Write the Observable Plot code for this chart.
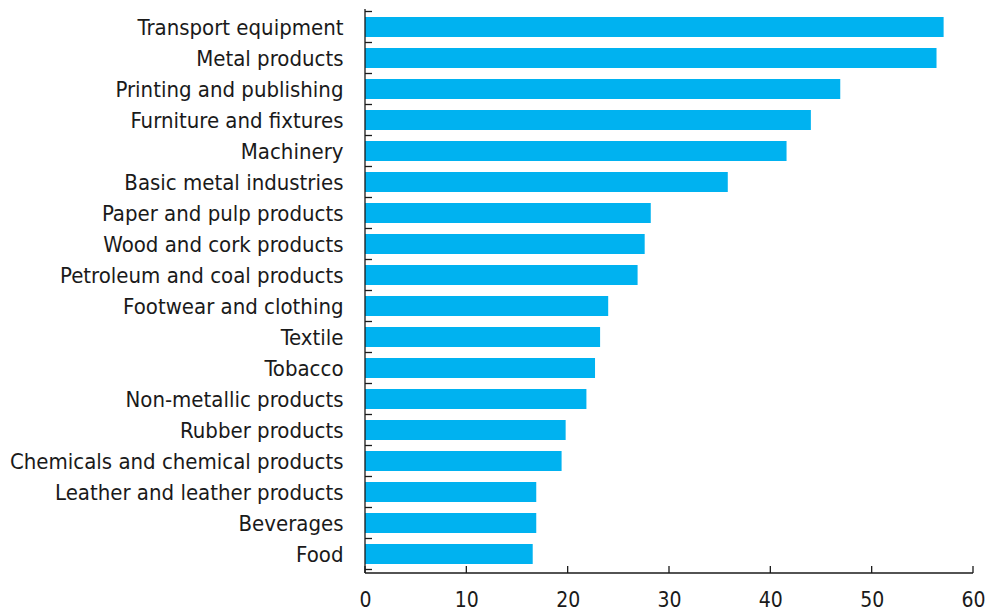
<!DOCTYPE html>
<html>
<head>
<meta charset="utf-8">
<script src="https://cdn.jsdelivr.net/npm/d3@7"></script>
<script src="https://cdn.jsdelivr.net/npm/@observablehq/plot@0.6"></script>
<style>
  html, body { margin: 0; padding: 0; background: #fff; overflow: hidden; }
</style>
</head>
<body>
<div id="chart"></div>
<script>
const categories = [
  "Transport equipment",
  "Metal products",
  "Printing and publishing",
  "Furniture and fixtures",
  "Machinery",
  "Basic metal industries",
  "Paper and pulp products",
  "Wood and cork products",
  "Petroleum and coal products",
  "Footwear and clothing",
  "Textile",
  "Tobacco",
  "Non-metallic products",
  "Rubber products",
  "Chemicals and chemical products",
  "Leather and leather products",
  "Beverages",
  "Food"
];
const values = [57.1, 56.4, 46.9, 44.0, 41.6, 35.8, 28.2, 27.6, 26.9, 24.0, 23.2, 22.7, 21.85, 19.8, 19.4, 16.9, 16.9, 16.55];
const xTicks = [0, 10, 20, 30, 40, 50, 60];

const data = categories.map((c, i) => ({category: c, value: values[i]}));

function axisLines() {
  return Plot.frame({
    render(index, scales, vals, dims) {
      const {x, y} = scales;
      const g = d3.create("svg:g").attr("stroke", "#1a1a1a").attr("stroke-width", 1.3).attr("fill", "none");
      const x0 = x(xTicks[0]);
      const x1 = x(xTicks[xTicks.length - 1]);
      const top = dims.marginTop;
      const bottom = dims.height - dims.marginBottom;
      g.append("line").attr("x1", x0).attr("x2", x0).attr("y1", top).attr("y2", bottom);
      g.append("line").attr("x1", x0).attr("x2", x1).attr("y1", bottom).attr("y2", bottom);
      for (const t of xTicks) {
        g.append("line").attr("x1", x(t)).attr("x2", x(t)).attr("y1", bottom).attr("y2", bottom - 7);
      }
      const step = y.step(), pad = (step - y.bandwidth()) / 2;
      const edges = categories.map(c => y(c) - pad);
      edges.push(y(categories[categories.length - 1]) + y.bandwidth() + pad);
      for (const e of edges) {
        g.append("line").attr("x1", x0).attr("x2", x0 + 7).attr("y1", e).attr("y2", e);
      }
      return g.node();
    }
  });
}

const chart = Plot.plot({
  width: 991,
  height: 613,
  marginLeft: 365,
  marginRight: 18,
  marginTop: 9,
  marginBottom: 40,
  style: {fontFamily: "'DejaVu Sans Condensed', 'DejaVu Sans', sans-serif", fontSize: "22px", color: "#1a1a1a", background: "#fff"},
  x: {domain: [0, 60], ticks: xTicks, label: null},
  y: {domain: categories, paddingInner: 0.35, paddingOuter: 0.175, label: null},
  marks: [
    Plot.barX(data, {x: "value", y: "category", fill: "#00B2F0"}),
    Plot.axisX({ticks: xTicks, tickSize: 0, tickPadding: 19, label: null, fontSize: 21}),
    Plot.axisY({tickSize: 0, tickPadding: 22, label: null, fontSize: 22}),
    axisLines()
  ]
});
document.getElementById("chart").appendChild(chart);
</script>
</body>
</html>
